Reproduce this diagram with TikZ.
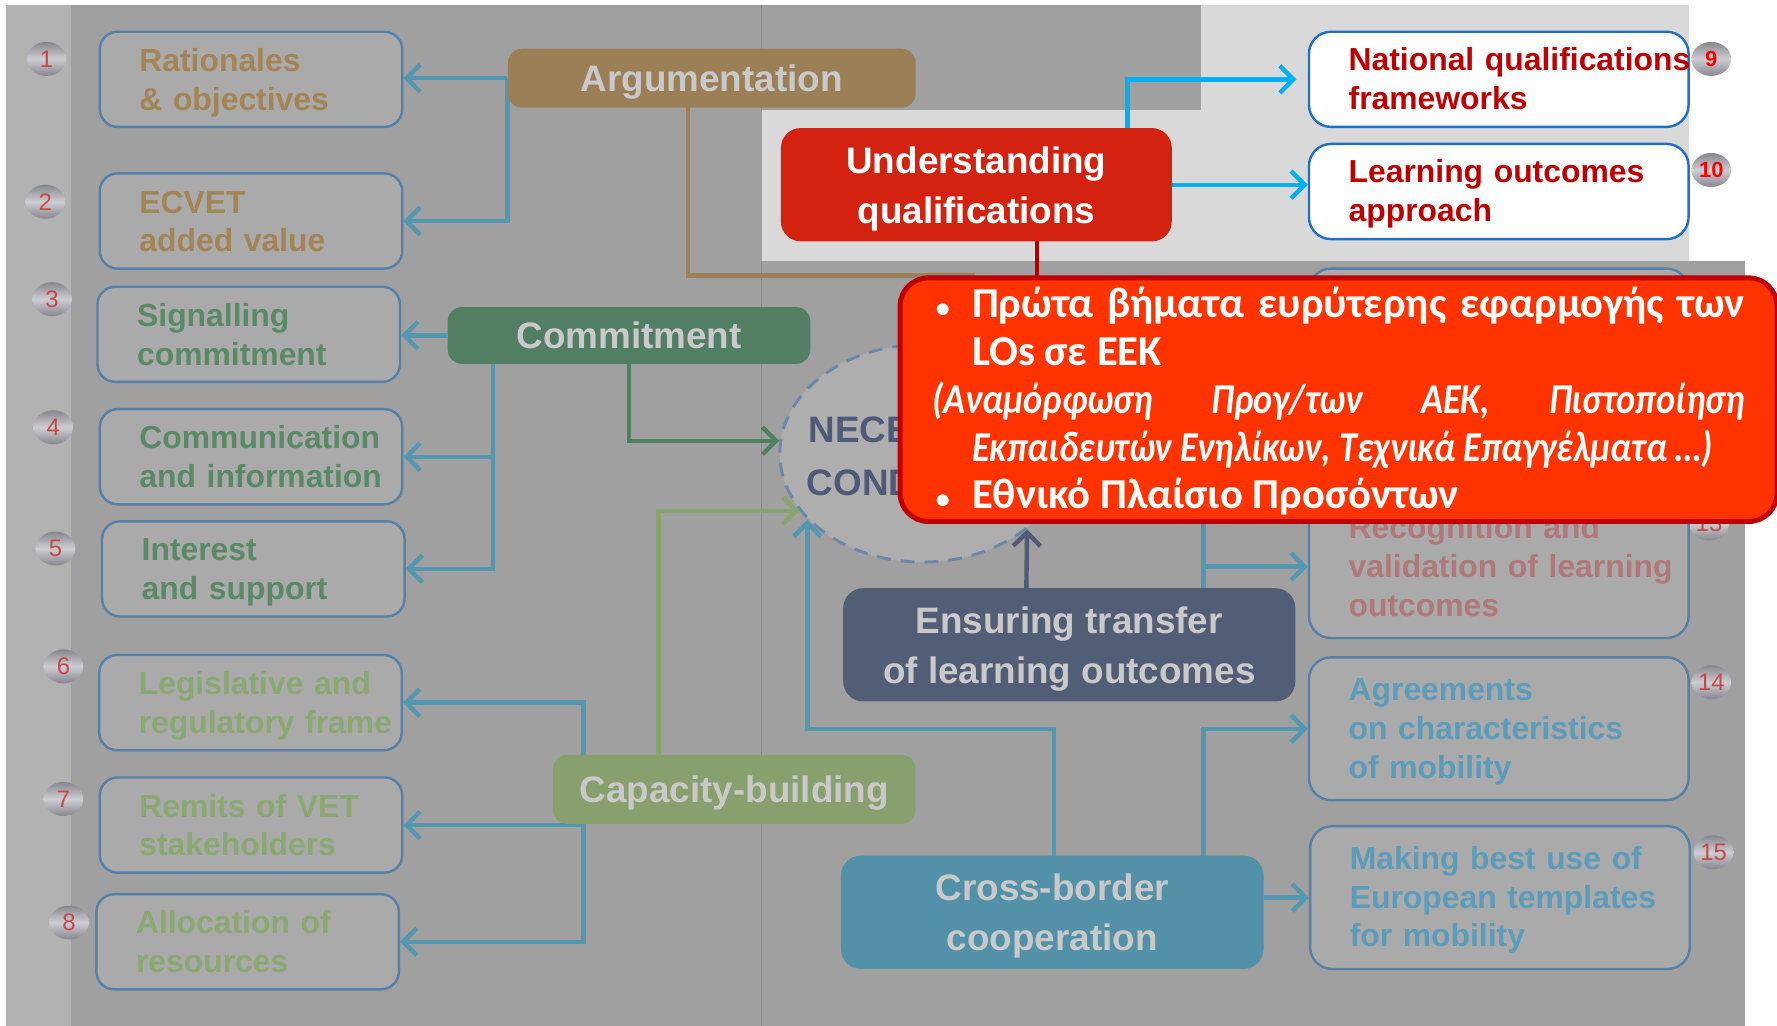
\documentclass[tikz,border=0pt]{standalone}
\usepackage{fontspec}
\setmainfont{Liberation Sans}
\newfontfamily\grfont{Carlito}
\newfontfamily\gritfont[FakeStretch=0.85]{Carlito}
\usetikzlibrary{arrows.meta,shapes.geometric,calc}
\hyphenpenalty=10000
\exhyphenpenalty=10000

\definecolor{slide}{HTML}{A0A0A0}
\definecolor{strip}{HTML}{B2B2B2}
\definecolor{panel}{HTML}{D9D9D9}
\definecolor{seam}{HTML}{8A8A8A}
\definecolor{boxfill}{HTML}{AAAAAA}
\definecolor{boxline}{HTML}{5580A8}
\definecolor{argfill}{HTML}{9B8057}
\definecolor{comfill}{HTML}{527F63}
\definecolor{capfill}{HTML}{88A06D}
\definecolor{etfill}{HTML}{525D76}
\definecolor{cbcfill}{HTML}{5391A8}
\definecolor{uqfill}{HTML}{D42211}
\definecolor{calloutfill}{HTML}{FF3300}
\definecolor{calloutedge}{HTML}{C00000}
\definecolor{boxtext}{HTML}{C9C9C9}
\definecolor{tantext}{HTML}{A38455}
\definecolor{greentext}{HTML}{5A8A65}
\definecolor{lgreentext}{HTML}{8AA872}
\definecolor{rectext}{HTML}{B07878}
\definecolor{agrtext}{HTML}{5B9CBA}
\definecolor{nqftext}{HTML}{C00000}
\definecolor{nqfline}{HTML}{1F70C0}
\definecolor{linkblue}{HTML}{5397B1}
\definecolor{brightblue}{HTML}{00B0F0}
\definecolor{greenline}{HTML}{4F8060}
\definecolor{lgreenline}{HTML}{88A46D}
\definecolor{tanline}{HTML}{9D8058}
\definecolor{navyline}{HTML}{505B77}
\definecolor{redline}{HTML}{B00000}
\definecolor{nctext}{HTML}{4F5A78}
\definecolor{ncfill}{HTML}{AEAEAE}
\definecolor{ncedge}{HTML}{6F86A6}
\definecolor{ovdark}{HTML}{86868E}
\definecolor{ovlight}{HTML}{CDCDD2}
\definecolor{numred}{HTML}{C84848}

\pgfdeclarelayer{bg}
\pgfdeclarelayer{lines}
\pgfsetlayers{bg,lines,main}

\tikzset{
  lbox/.style={draw=boxline, fill=boxfill, line width=1.2pt, rounded corners=9pt,
    minimum width=5.34cm, minimum height=1.68cm, text width=3.94cm, inner xsep=0.7cm,
    inner ysep=0pt, text height=12pt, text depth=20pt,
    align=left, font=\bfseries\fontsize{16}{19.5}\selectfont},
  rbox/.style={draw=boxline, fill=boxfill, line width=1.2pt, rounded corners=11pt,
    minimum width=6.7cm, minimum height=1.68cm, text width=5.3cm, inner xsep=0.7cm,
    inner ysep=0pt, text height=12pt, text depth=21pt,
    align=left, font=\bfseries\fontsize{16}{19.5}\selectfont},
  rbox3/.style={rbox, minimum height=2.52cm, text depth=40.4pt},
  fbox/.style={rounded corners=7pt, text=boxtext, align=center, inner sep=0,
    text height=38.6pt, text depth=0pt, font=\bfseries\fontsize{18.5}{25}\selectfont},
  fbox1/.style={fbox, text height=13pt, text depth=0pt},
  numb/.style={ellipse, minimum width=0.7cm, minimum height=0.6cm, inner sep=0,
    top color=ovdark, bottom color=ovdark, middle color=ovlight, text=numred,
    font=\fontsize{12}{12}\selectfont},
  tip/.style={-{Straight Barb[length=2.4mm,width=4.8mm]}},
  link/.style={line width=2.2pt, draw=linkblue},
  callout/.style={draw=calloutedge, fill=calloutfill, line width=2.5pt, rounded corners=0.5cm,
    minimum width=15.48cm, minimum height=4.3cm, text width=14.34cm, inner xsep=0.57cm,
    inner ysep=0.1cm, text height=16pt, text depth=98.2pt, align=justify, text=white,
    font=\grfont\bfseries\fontsize{21.4}{24}\selectfont}
}
\newcommand{\grbullet}{\llap{\makebox[0.7cm][l]{\hspace{0.06cm}{\fontsize{14}{14}\selectfont •}}}}

\begin{document}
\begin{tikzpicture}[x=0.02cm, y=-0.02cm]
\useasboundingbox (0,0) rectangle (1568,905);

% slide background
\begin{pgfonlayer}{bg}
\fill[white] (0,0) rectangle (1568,905);
\fill[slide] (5,4) rectangle (1540,905);
\fill[strip] (5,4) rectangle (63,905);
\fill[white] (1490,0) rectangle (1568,230);
\fill[panel] (1060,4) rectangle (1490,230);
\fill[panel] (672,97) rectangle (1060,230);
\draw[seam, line width=0.4pt] (672,4) -- (672,97) (672,230) -- (672,905);
\end{pgfonlayer}

% numbers
\node[numb] (n1) at (41,52) {1};
\node[numb] (n2) at (40,178) {2};
\node[numb] (n3) at (46,264) {3};
\node[numb] (n4) at (47,377) {4};
\node[numb] (n5) at (49,484) {5};
\node[numb] (n6) at (56,588) {6};
\node[numb] (n7) at (56,705) {7};
\node[numb] (n8) at (61,814) {8};
\node[numb, text=red, font=\bfseries\fontsize{11}{11}\selectfont] (n9) at (1510,52) {9};
\node[numb, text=red, font=\bfseries\fontsize{11}{11}\selectfont] (n10) at (1510,150) {10};
\node[numb] (n13) at (1508,462) {13};
\node[numb] (n14) at (1510,602) {14};
\node[numb] (n15) at (1512,752) {15};

% left column
\node[lbox, text=tantext] (lb1) at (221.5,70) {Rationales\\\&~objectives};
\node[lbox, text=tantext] (lb2) at (221.5,195) {ECVET\\added~value};
\node[lbox, text=greentext] (lb3) at (219.5,295) {Signalling\\commitment};
\node[lbox, text=greentext] (lb4) at (221.5,403) {Communication\\and~information};
\node[lbox, text=greentext] (lb5) at (223.5,502) {Interest\\and~support};
\node[lbox, text=lgreentext] (lb6) at (221,620) {Legislative~and\\regulatory~frame};
\node[lbox, text=lgreentext] (lb7) at (221.5,728) {Remits~of~VET\\stakeholders};
\node[lbox, text=lgreentext] (lb8) at (218.5,831) {Allocation~of\\resources};

% right column
\node[rbox, draw=nqfline, fill=white, text=nqftext] (nqf) at (1322.5,70) {National~qualifications\\frameworks};
\node[rbox, draw=nqfline, fill=white, text=nqftext] (lo) at (1322.5,169) {Learning~outcomes\\approach};
\node[rbox] (b11) at (1322.5,279) {};
\node[rbox3, text=rectext] (rv) at (1322.5,500) {Recognition~and\\validation~of~learning\\outcomes};
\node[rbox3, text=agrtext] (agr) at (1322.5,643) {Agreements\\on~characteristics\\of~mobility};
\node[rbox3, text=agrtext] (mbu) at (1323.5,792) {Making~best~use~of\\European~templates\\for~mobility};

% centre
\node[fbox1, fill=argfill, minimum width=7.2cm, minimum height=1.04cm] (arg) at (628,69) {Argumentation};
\node[fbox, fill=uqfill, text=white, rounded corners=10pt, minimum width=6.9cm, minimum height=2cm] (uq) at (861.5,163) {Understanding\\qualifications};
\node[fbox1, fill=comfill, minimum width=6.4cm, minimum height=1cm] (com) at (555,296) {Commitment};
\node[fbox1, fill=capfill, minimum width=6.4cm, minimum height=1.22cm] (cb) at (648,696.5) {Capacity-building};
\node[fbox, fill=etfill, rounded corners=10pt, minimum width=7.98cm, minimum height=2cm] (et) at (943.5,569) {Ensuring transfer\\of learning outcomes};
\node[fbox, fill=cbcfill, rounded corners=10pt, minimum width=7.46cm, minimum height=2cm] (cbc) at (928.5,805) {Cross-border\\cooperation};
\node[ellipse, draw=ncedge, fill=ncfill, dash pattern=on 7pt off 5pt, line width=1.5pt,
  inner sep=0, minimum width=5.04cm, minimum height=3.84cm] (nc) at (814,400) {};
\node[text=nctext, align=center, font=\bfseries\fontsize{18.5}{26.7}\selectfont] (nct) at (814,403) {NECESSARY\\CONDITIONS};

\coordinate (argx) at (607,69);
\coordinate (argend) at (860,243);
\coordinate (uqx) at (995,163);
\coordinate (uqd) at (915,163);
\coordinate (redend) at (915,300);
\coordinate (comx) at (435,296);
\coordinate (cbx) at (515,696);
\coordinate (cbg) at (581,696);
\coordinate (etx) at (905,569);
\coordinate (etr) at (1062,569);
\coordinate (cbcl) at (930,805);
\coordinate (cbcr) at (1062,805);

% connectors
\begin{pgfonlayer}{lines}
\draw[link,tip] (arg.west) -- (arg.west -| lb1.east);
\draw[link,tip] (arg.west) |- (lb2.east);
\draw[line width=2.2pt, tanline] (argx) |- (argend);
\draw[line width=2.2pt, brightblue, tip, shorten >=0.2cm] (uqx) |- (nqf.west);
\draw[line width=2.2pt, brightblue, tip] (uq.east) -- (uq.east -| lo.west);
\draw[line width=2pt, redline] (uqd) -- (redend);
\draw[link,tip] (com.west) -- (com.west -| lb3.east);
\draw[link,tip] (comx) |- (lb4.east);
\draw[link,tip] (comx) |- (lb5.east);
\draw[line width=2.2pt, greenline, tip] (com) |- (nc.175);
\draw[link,tip] (cbx) |- (lb6.east);
\draw[link,tip] (cbx) |- (lb7.east);
\draw[link,tip] (cbx) |- (lb8.east);
\draw[line width=2.2pt, lgreenline, tip] (cbg) |- (nc.205);
\draw[line width=2.2pt, navyline, tip] (etx) -- (nc.-36);
\draw[link,tip] (etr) |- (rv.west);
\draw[link,tip] (etr) |- (b11.west);
\draw[link,tip] (cbcl) -- ++(0,-162) -| (nc.210);
\draw[link,tip] (cbcr) |- (agr.west);
\draw[link,tip] (mbu.west -| cbc.east) -- (mbu.west);
\end{pgfonlayer}

% overlay
\node[callout, anchor=north west] (gr) at (792,243) {%
  \parindent=0pt \parskip=0pt%
  {\leftskip=0.7cm \noindent\grbullet Πρώτα βήματα ευρύτερης εφαρμογής των\linebreak LOs σε ΕΕΚ\par}%
  {\gritfont\bfseries\itshape \hangindent=0.7cm \hangafter=1 \noindent(Αναμόρφωση Προγ/των ΑΕΚ, Πιστοποίηση\linebreak Εκπαιδευτών Ενηλίκων, Τεχνικά Επαγγέλματα …)\par}%
  {\leftskip=0.7cm \noindent\grbullet Εθνικό Πλαίσιο Προσόντων\par}};
\end{tikzpicture}
\end{document}
